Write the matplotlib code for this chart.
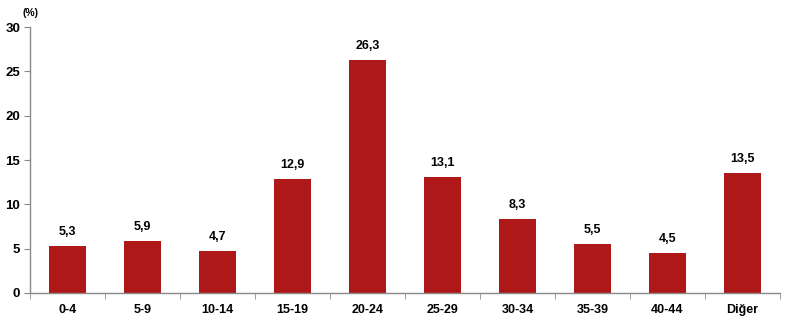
import numpy as np
import matplotlib.pyplot as plt

categories = ["0-4", "5-9", "10-14", "15-19", "20-24", "25-29", "30-34", "35-39", "40-44", "Diğer"]
values = [5.3, 5.9, 4.7, 12.9, 26.3, 13.1, 8.3, 5.5, 4.5, 13.5]
value_labels = ["5,3", "5,9", "4,7", "12,9", "26,3", "13,1", "8,3", "5,5", "4,5", "13,5"]

plt.rcParams['font.family'] = ['Liberation Sans', 'DejaVu Sans']

fig = plt.figure(figsize=(7.96, 3.25), dpi=100)
ax = fig.add_axes([0.0377, 0.0985, 0.942, 0.818])

x = np.arange(len(categories))
ax.bar(x, values, width=0.5, color="#AE1818")
for xi, v, lab in zip(x, values, value_labels):
    ax.text(xi, v + 0.9, lab, ha="center", va="bottom", fontsize=9, fontweight="bold")

ax.set_xlim(-0.5, len(categories) - 0.5)
ax.set_ylim(0, 30)
ax.set_yticks(range(0, 31, 5))
ax.set_xticks(x)
ax.set_xticklabels(categories, fontsize=9, fontweight="bold")
ax.set_xticks(np.arange(-0.5, len(categories) + 0.5, 1), minor=True)
ax.tick_params(axis="x", which="major", length=0, pad=8)
ax.tick_params(axis="x", which="minor", length=4, color="#898989")
ax.tick_params(axis="y", length=4, color="#898989", pad=3)
for lab in ax.get_yticklabels():
    lab.set_fontweight("bold")
    lab.set_fontsize(9.5)

for s in ["top", "right"]:
    ax.spines[s].set_visible(False)
for s in ["left", "bottom"]:
    ax.spines[s].set_color("#898989")
    ax.spines[s].set_linewidth(1)

fig.text(0.0285, 0.945, "(%)", fontsize=7.5, fontweight="bold", ha="left", va="bottom")

fig.savefig("out.png", dpi=100)
